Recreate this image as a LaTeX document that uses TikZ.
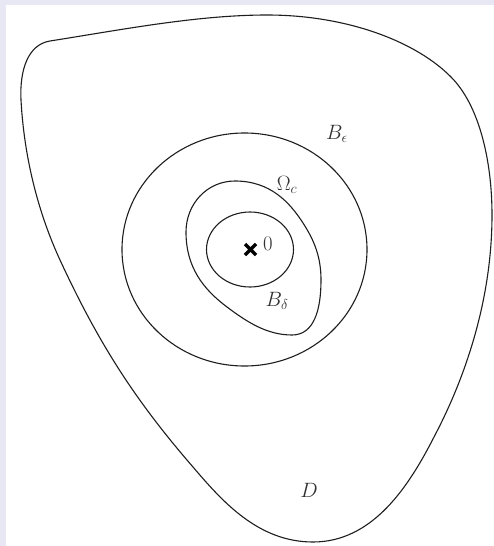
\documentclass[tikz,border=0pt]{standalone}
\usepackage{tikz}
\definecolor{bgframe}{RGB}{232,232,244}
\definecolor{ink}{RGB}{30,30,30}
\definecolor{txt}{RGB}{50,50,50}
\begin{document}
\begin{tikzpicture}[x=1pt,y=-1pt,
  curve/.style={draw=ink,line width=1.1pt},
  lab/.style={text=txt,font=\fontsize{20}{23}\selectfont,inner sep=0pt}]
\useasboundingbox (0,0) rectangle (494,546);
\fill[bgframe] (0,0) rectangle (494,546);
\fill[white] (6,5) rectangle (494,546);
% region D
\draw[curve] (50,41) .. controls (120,30) and (197,15) .. (267,15)
  .. controls (347,15) and (416,41.5) .. (451,77)
  .. controls (479,105) and (492,160) .. (492,215)
  .. controls (492,305) and (462,384) .. (434,437)
  .. controls (409,486) and (373,542) .. (313,542)
  .. controls (258,542) and (222,501) .. (193,467)
  .. controls (134,399) and (98,342) .. (60,260)
  .. controls (37,210) and (24,155) .. (21,100)
  .. controls (19.5,70) and (28,44.5) .. (50,41) -- cycle;
% B_epsilon
\draw[curve] (244.5,249.5) ellipse [x radius=122.5pt, y radius=116.5pt];
% Omega_c
\draw[curve] (235,181) .. controls (270,181) and (289.5,202) .. (303,223)
  .. controls (315,241.5) and (321,258) .. (321,280)
  .. controls (321,310) and (314,335) .. (292,335)
  .. controls (267,335) and (247,322) .. (227,307)
  .. controls (203,289) and (186,267) .. (186,232)
  .. controls (186,204) and (207,181) .. (235,181) -- cycle;
% B_delta
\draw[curve] (250,249.5) ellipse [x radius=43.5pt, y radius=37.5pt];
% origin
\coordinate (o) at (250.5,249.5);
\draw[line width=3.4pt,draw=black] ([shift={(-5.5,-5.5)}]o) -- ([shift={(5.5,5.5)}]o)
  ([shift={(-5.5,5.5)}]o) -- ([shift={(5.5,-5.5)}]o);
\node[lab] (zero) at (268,244) {$0$};
\node[lab] (beps) at (337,134) {$B_\epsilon$};
\node[lab] (omc) at (287,185) {$\Omega_c$};
\node[lab] (bdel) at (277,301) {$B_\delta$};
\node[lab] (dd) at (309,490) {$D$};
\end{tikzpicture}
\end{document}
